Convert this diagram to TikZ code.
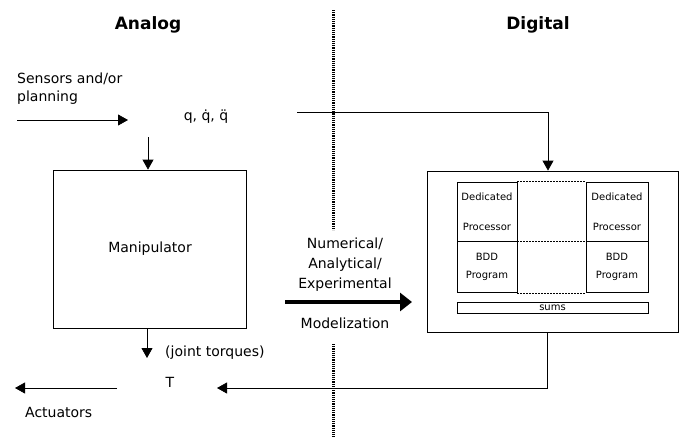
\documentclass[tikz,border=0pt]{standalone}
\usepackage{fontspec}
\setmainfont{DejaVu Sans}
\usetikzlibrary{positioning,arrows.meta}

\begin{document}
\begin{tikzpicture}[x=1pt, y=-1pt,
  every node/.style={font=\fontsize{14}{17}\selectfont, inner sep=0pt},
  blk/.style={draw, line width=0.8pt, minimum width=#1},
  small/.style={font=\fontsize{10}{12}\selectfont},
  arr/.style={line width=0.8pt, -{Triangle[length=10pt,width=11pt]}},
  divider/.style={line width=3pt, dash pattern=on 1.1pt off 1.1pt},
  conn/.style={line width=0.6pt, dash pattern=on 1.5pt off 1.5pt}]
\useasboundingbox (0,0) rectangle (687,437);

% Headings
\node[font=\fontsize{17}{20}\selectfont\bfseries] (analog) at (148,25) {Analog};
\node[font=\fontsize{17}{20}\selectfont\bfseries] (digital) at (538,25) {Digital};

% Divider between the two worlds
\coordinate (divtop) at (333,10);
\coordinate (divmid) at (333,230);
\coordinate (divlow) at (333,344);
\coordinate (divbot) at (333,437);
\draw[divider] (divtop) -- (divmid);
\draw[divider] (divlow) -- (divbot);

% Analog side
\node[anchor=west, align=left] (sensors) at (17,89) {Sensors and/or\\[1pt]planning};
\coordinate (sensin) at (17,120);
\coordinate (sensout) at (128,120);
\draw[arr] (sensin) -- (sensout);
\node (qvec) at (206,117) {q, \.{q}, \"{q}};

\node[blk=193pt, minimum height=158pt] (manip) at (150,249) {Manipulator};
\coordinate (qdown) at (148,137);
\draw[arr] (qdown) -- (qdown |- manip.north);

\coordinate (torq) at (147,358);
\draw[arr] (manip.south -| torq) -- (torq);
\node[anchor=west] (joint) at (165,353) {(joint torques)};
\node (tau) at (170,382) {T};

\coordinate (actin) at (117,388);
\coordinate (actout) at (15,388);
\draw[arr] (actin) -- (actout);
\node[anchor=west] (actuators) at (25,412) {Actuators};

% Modelization arrow
\node[align=center] (method) at (345,265) {Numerical/\\[3pt]Analytical/\\[3pt]Experimental};
\node (modelize) at (345,323) {Modelization};
\coordinate (modin) at (285,302);
\coordinate (modout) at (412,302);
\draw[line width=4pt, -{Triangle[length=12pt,width=18pt]}] (modin) -- (modout);

% Digital side
\node[blk=251pt, minimum height=161pt] (dig) at (552.5,251.5) {};
\foreach \col/\cx/\cw in {left/487/60pt, right/617/62pt} {
  \node[blk=\cw, minimum height=59pt, small, align=center] (ded\col) at (\cx,211.5) {Dedicated\\[18pt]Processor};
  \node[blk=\cw, minimum height=51pt, small, align=center, below=0pt of ded\col] (bdd\col) {BDD\\[6pt]Program};
}
\draw[conn] (dedleft.north east) -- (dedright.north west);
\draw[conn] (dedleft.south east) -- (dedright.south west);
\draw[conn] (bddleft.south east) -- (bddright.south west);
\node[blk=191pt, minimum height=11pt, small, below=9pt of bddleft.south west, anchor=north west] (sums) {sums};

% Connections across the divider
\coordinate (qtap) at (297,112);
\draw[arr] (qtap) -| ([xshift=-4.5pt]dig.north);
\coordinate (tauin) at (217,388);
\draw[arr] ([xshift=-5.5pt]dig.south) |- (tauin);
\end{tikzpicture}
\end{document}
